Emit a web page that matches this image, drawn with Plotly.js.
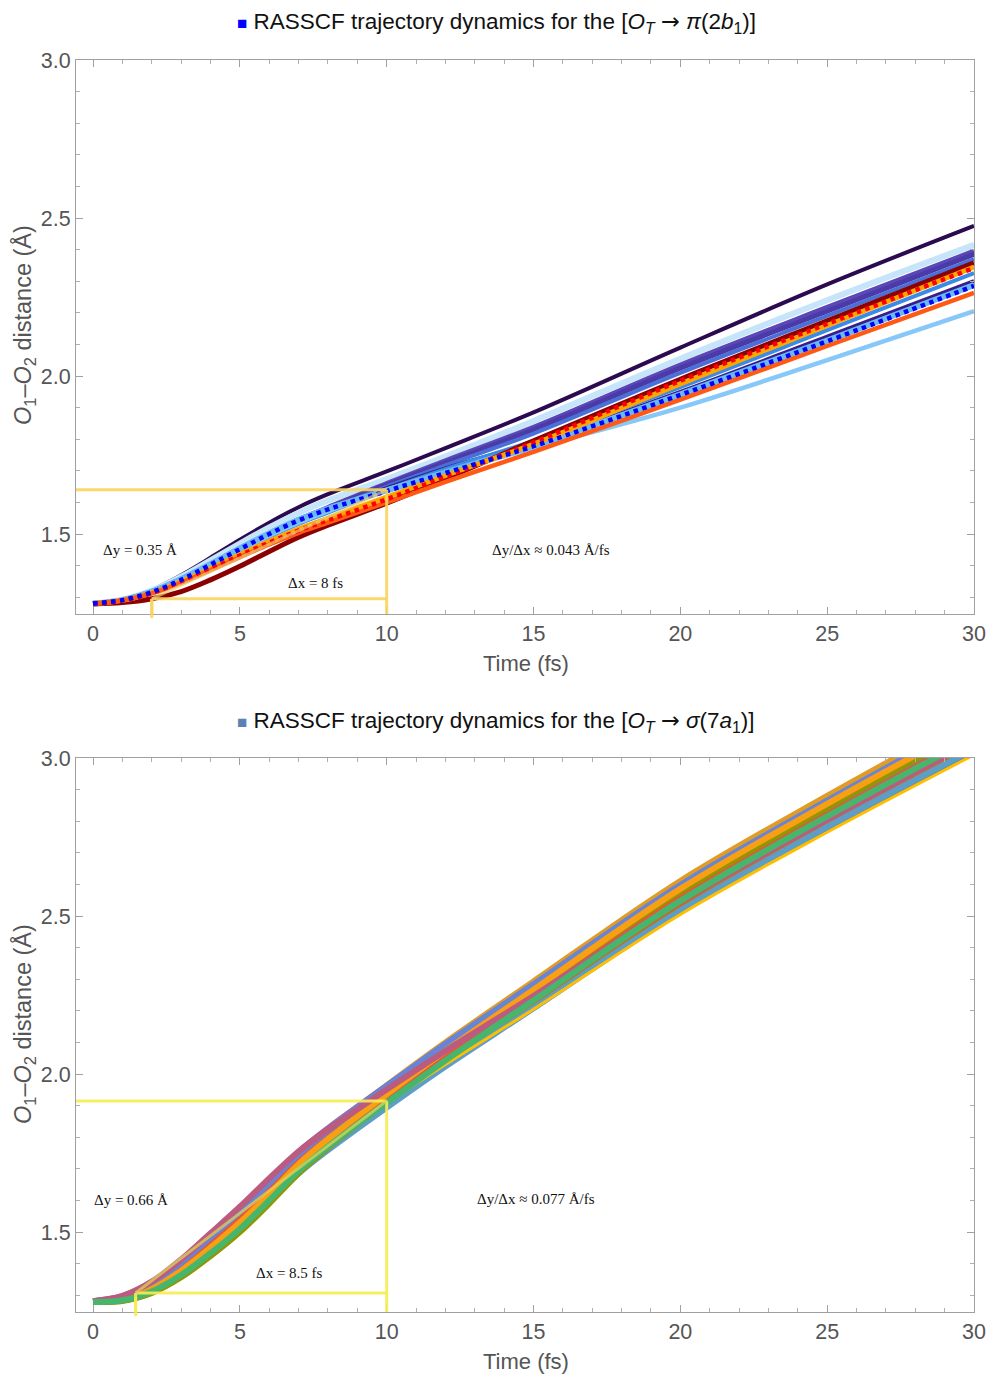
<!DOCTYPE html>
<html>
<head>
<meta charset="utf-8">
<script src="https://cdn.plot.ly/plotly-3.0.1.min.js"></script>
<style>html,body{margin:0;padding:0;background:#fff}#chart{width:990px;height:1376px}</style>
</head>
<body>
<div id="chart"></div>
<script>
// ---------- DATA ----------
const timeFs = [0, 1, 2, 3, 4, 5, 6, 7, 8, 10, 12, 15, 20, 25, 30];
const xTickVals = [0, 5, 10, 15, 20, 25, 30];
const yTickVals = [1.5, 2.0, 2.5, 3.0];

// Top panel: [O_T -> pi(2b1)] trajectories (O1-O2 distance, Angstrom)
const pi01 = [1.280, 1.292, 1.323, 1.370, 1.425, 1.482, 1.536, 1.585, 1.626, 1.698, 1.772, 1.885, 2.090, 2.290, 2.475];
const pi02 = [1.280, 1.292, 1.321, 1.365, 1.417, 1.470, 1.521, 1.567, 1.606, 1.674, 1.745, 1.858, 2.055, 2.240, 2.415];
const pi03 = [1.280, 1.291, 1.318, 1.358, 1.405, 1.455, 1.502, 1.546, 1.584, 1.660, 1.732, 1.838, 2.035, 2.217, 2.395];
const pi04 = [1.280, 1.291, 1.318, 1.357, 1.404, 1.453, 1.499, 1.543, 1.580, 1.655, 1.725, 1.830, 2.025, 2.205, 2.385];
const pi05 = [1.280, 1.291, 1.317, 1.356, 1.402, 1.450, 1.496, 1.539, 1.576, 1.650, 1.717, 1.818, 2.010, 2.190, 2.370];
const pi06 = [1.280, 1.291, 1.317, 1.355, 1.400, 1.448, 1.494, 1.536, 1.572, 1.645, 1.708, 1.790, 1.950, 2.125, 2.300];
const pi07 = [1.280, 1.291, 1.316, 1.354, 1.399, 1.446, 1.491, 1.532, 1.568, 1.640, 1.705, 1.795, 1.965, 2.145, 2.326];
const pi08 = [1.280, 1.291, 1.317, 1.355, 1.401, 1.449, 1.495, 1.536, 1.572, 1.640, 1.695, 1.772, 1.900, 2.050, 2.205];
const pi09 = [1.279, 1.283, 1.295, 1.318, 1.355, 1.398, 1.445, 1.490, 1.528, 1.598, 1.675, 1.795, 1.990, 2.175, 2.358];
const pi10 = [1.280, 1.290, 1.314, 1.349, 1.391, 1.435, 1.477, 1.516, 1.550, 1.617, 1.685, 1.785, 1.975, 2.160, 2.345];
const pi11 = [1.280, 1.290, 1.312, 1.346, 1.386, 1.427, 1.467, 1.504, 1.536, 1.600, 1.665, 1.760, 1.925, 2.095, 2.263];
const pi12 = [1.280, 1.291, 1.316, 1.355, 1.403, 1.452, 1.500, 1.543, 1.578, 1.636, 1.693, 1.778, 1.940, 2.110, 2.285];
const pi13 = [1.280, 1.290, 1.313, 1.348, 1.389, 1.432, 1.473, 1.511, 1.544, 1.610, 1.682, 1.790, 1.985, 2.165, 2.342];
const pi14 = [1.280, 1.291, 1.317, 1.357, 1.405, 1.454, 1.502, 1.545, 1.580, 1.638, 1.695, 1.780, 1.942, 2.112, 2.288];

// Bottom panel: [O_T -> sigma(7a1)] trajectories
const sg01 = [1.280, 1.288, 1.320, 1.378, 1.451, 1.530, 1.620, 1.706, 1.778, 1.908, 2.032, 2.210, 2.513, 2.775, 3.020];
const sg02 = [1.281, 1.294, 1.334, 1.399, 1.478, 1.560, 1.650, 1.744, 1.823, 1.964, 2.100, 2.293, 2.611, 2.880, 3.136];
const sg03 = [1.279, 1.286, 1.316, 1.371, 1.442, 1.520, 1.610, 1.701, 1.777, 1.914, 2.045, 2.232, 2.544, 2.810, 3.059];
const sg04 = [1.280, 1.290, 1.325, 1.385, 1.460, 1.540, 1.630, 1.721, 1.797, 1.933, 2.064, 2.251, 2.562, 2.828, 3.079];
const sg05 = [1.280, 1.292, 1.330, 1.392, 1.469, 1.550, 1.640, 1.731, 1.806, 1.942, 2.073, 2.259, 2.570, 2.835, 3.087];
const sg06 = [1.279, 1.285, 1.314, 1.368, 1.438, 1.515, 1.605, 1.695, 1.769, 1.903, 2.033, 2.217, 2.526, 2.790, 3.037];
const sg07 = [1.279, 1.283, 1.309, 1.361, 1.429, 1.505, 1.595, 1.685, 1.759, 1.894, 2.024, 2.208, 2.517, 2.782, 3.028];
const sg08 = [1.280, 1.289, 1.323, 1.382, 1.456, 1.535, 1.625, 1.710, 1.780, 1.908, 2.030, 2.205, 2.505, 2.765, 3.010];
const sg09 = [1.281, 1.297, 1.341, 1.410, 1.492, 1.575, 1.665, 1.754, 1.828, 1.962, 2.090, 2.273, 2.581, 2.845, 3.098];
const sg10 = [1.279, 1.282, 1.307, 1.357, 1.424, 1.500, 1.590, 1.686, 1.767, 1.912, 2.051, 2.248, 2.571, 2.842, 3.094];
const sg11 = [1.280, 1.290, 1.325, 1.385, 1.460, 1.540, 1.630, 1.720, 1.795, 1.930, 2.060, 2.245, 2.555, 2.820, 3.070];
const sg12 = [1.281, 1.295, 1.336, 1.403, 1.483, 1.565, 1.655, 1.747, 1.824, 1.962, 2.095, 2.284, 2.598, 2.865, 3.120];
const sg13 = [1.280, 1.288, 1.320, 1.378, 1.451, 1.530, 1.620, 1.715, 1.794, 1.936, 2.073, 2.267, 2.586, 2.855, 3.109];
const sg14 = [1.281, 1.298, 1.343, 1.413, 1.496, 1.580, 1.670, 1.755, 1.824, 1.951, 2.073, 2.247, 2.546, 2.805, 3.054];
const sg15 = [1.279, 1.284, 1.312, 1.364, 1.433, 1.510, 1.600, 1.693, 1.770, 1.909, 2.043, 2.233, 2.548, 2.815, 3.065];

// Guide lines (slope construction): [x0, x1, yLow, yHigh]
const piGuide = [2.0, 10.0, 1.295, 1.640];
const sgGuide = [1.45, 10.0, 1.307, 1.915];

// Text labels
const arrow = '<span style="font-family:DejaVu Sans">→</span>';
const piTitle = '<span style="color:#0000ff;font-size:17px">■</span> RASSCF trajectory dynamics for the [<i>O</i><sub><i>T</i></sub> ' + arrow + ' <i>π</i>(2<i>b</i><sub>1</sub>)]';
const sgTitle = '<span style="color:#5e81b5;font-size:17px">■</span> RASSCF trajectory dynamics for the [<i>O</i><sub><i>T</i></sub> ' + arrow + ' <i>σ</i>(7<i>a</i><sub>1</sub>)]';
const yTitle = '<i>O</i><sub>1</sub>–<i>O</i><sub>2</sub> distance (Å)';
const xTitle = 'Time (fs)';
const piLabels = ['Δy = 0.35 Å', 'Δx = 8 fs', 'Δy/Δx ≈ 0.043 Å/fs'];
const sgLabels = ['Δy = 0.66 Å', 'Δx = 8.5 fs', 'Δy/Δx ≈ 0.077 Å/fs'];

// ---------- STYLES ----------
const piSeries = [pi01, pi02, pi03, pi04, pi05, pi06, pi07, pi08, pi14, pi09, pi10, pi11, pi13, pi12];
const piStyle = [
  {c:'#2b0a50', w:4}, {c:'#c6e4fa', w:6}, {c:'#5a48b8', w:5}, {c:'#4b3aa8', w:5},
  {c:'#4a70d8', w:4}, {c:'#3a1c8a', w:4}, {c:'#3a8ae6', w:4}, {c:'#88c8f8', w:4.5},
  {c:'#6ab8f2', w:6}, {c:'#8b0000', w:5}, {c:'#ffa500', w:5}, {c:'#ff5a14', w:4.5},
  {c:'#ff0000', w:4.5, d:'dot'}, {c:'#0000ff', w:4.5, d:'dot'}
];
const sgSeries = [sg01, sg02, sg03, sg04, sg05, sg06, sg07, sg08, sg09, sg10, sg11, sg12, sg13, sg14, sg15];
const sgColors = ['#5e81b5','#e19c24','#8fb032','#eb6235','#8778b3','#c56e1a','#5d9ec7','#ffbf00',
                  '#a5609d','#929600','#e95536','#6685d9','#f89f13','#bc5b80','#47b66d'];

const traces = [];
piSeries.forEach((ys, i) => {
  const s = piStyle[i];
  traces.push({x: timeFs, y: ys, xaxis:'x', yaxis:'y', mode:'lines', hoverinfo:'skip',
    line:{color:s.c, width:s.w, dash:s.d || 'solid', shape:'spline', smoothing:1}, showlegend:false});
});
sgSeries.forEach((ys, i) => {
  traces.push({x: timeFs, y: ys, xaxis:'x2', yaxis:'y2', mode:'lines', hoverinfo:'skip',
    line:{color:sgColors[i], width:i === 7 ? 3 : 6, shape:'spline', smoothing:1}, showlegend:false});
});

const yRange = [1.247, 3.0];
const xRange = [-0.58, 30];
const axisCommon = {
  showline:true, linecolor:'#a0a0a0', linewidth:1, mirror:'ticks',
  ticks:'inside', ticklen:7, tickcolor:'#a0a0a0', tickwidth:1,
  showgrid:false, zeroline:false,
  tickfont:{family:'Liberation Sans, Arial, sans-serif', size:21.5, color:'#555'}
};
function xa(anchor, dom){ return Object.assign({}, axisCommon, {anchor, domain:dom, range:xRange,
  tickvals:xTickVals, minor:{dtick:1, ticks:'inside', ticklen:4, tickcolor:'#b0b0b0'}}); }
function ya(anchor, dom){ return Object.assign({}, axisCommon, {anchor, domain:dom, range:yRange,
  tickvals:yTickVals, tickformat:'.1f', minor:{dtick:0.1, ticks:'inside', ticklen:4, tickcolor:'#b0b0b0'}}); }

const xDom = [76/990, 974/990];
const yDomTop = [(1376-614)/1376, (1376-60)/1376];
const yDomBot = [(1376-1312)/1376, (1376-758)/1376];

function guideShapes(g, xr, yr, axisBottomPx, col, colDiag){
  const [x0, x1, ylo, yhi] = g;
  const base = {type:'line', layer:'above', xref:xr, yref:yr};
  return [
    Object.assign({}, base, {x0:xRange[0], x1:x1, y0:yhi, y1:yhi, line:{color:col, width:3}}),
    Object.assign({}, base, {x0:x1, x1:x1, y0:yhi, y1:yRange[0], line:{color:col, width:3}}),
    Object.assign({}, base, {x0:x0, x1:x1, y0:ylo, y1:ylo, line:{color:col, width:3}}),
    {type:'line', layer:'above', xref:xr, yref:'paper', x0:x0, x1:x0,
     y0:(1376-axisBottomPx-4)/1376, y1:(1376-axisBottomPx+15)/1376, line:{color:col, width:3}},
    Object.assign({}, base, {x0:x0, x1:x0, y0:ylo, y1:yRange[0], line:{color:col, width:3}}),
    Object.assign({}, base, {x0:x0, x1:x1, y0:ylo, y1:yhi, line:{color:colDiag, width:3}})
  ];
}

const serif = {family:'Liberation Serif, Times New Roman, serif', size:15, color:'#111'};
const sans = {family:'Liberation Sans, Arial, sans-serif', size:22.5, color:'#111'};
const gray = {family:'Liberation Sans, Arial, sans-serif', size:22, color:'#555'};
const grayY = {family:'Liberation Sans, Arial, sans-serif', size:23.5, color:'#555'};

function labelAnns(lbl, xr, yr, pos){
  return lbl.map((t, i) => ({text:t, xref:xr, yref:yr, x:pos[i][0], y:pos[i][1], showarrow:false, font:serif,
    xanchor:'center', yanchor:'middle'}));
}
function paperAnn(text, px, py, font, extra){
  return Object.assign({text, xref:'paper', yref:'paper', x:px/990, y:(1376-py)/1376, showarrow:false,
    font, xanchor:'center', yanchor:'middle'}, extra || {});
}

const annotations = [
  paperAnn(piTitle, 496, 22, sans),
  paperAnn(sgTitle, 496, 722, sans),
  paperAnn(xTitle, 526, 663, gray),
  paperAnn(xTitle, 526, 1361, gray),
  paperAnn(yTitle, 24, 325, grayY, {textangle:-90}),
  paperAnn(yTitle, 24, 1024, grayY, {textangle:-90})
].concat(labelAnns(piLabels, 'x', 'y', [[1.6, 1.449], [7.56, 1.345], [15.6, 1.449]]))
 .concat(labelAnns(sgLabels, 'x2', 'y2', [[1.29, 1.601], [6.7, 1.370], [15.1, 1.604]]));

const layout = {
  width:990, height:1376, margin:{l:0, r:0, t:0, b:0},
  paper_bgcolor:'#fff', plot_bgcolor:'#fff', showlegend:false,
  xaxis: xa('y', xDom), yaxis: ya('x', yDomTop),
  xaxis2: xa('y2', xDom), yaxis2: ya('x2', yDomBot),
  shapes: guideShapes(piGuide, 'x', 'y', 614, 'rgba(250,212,95,0.9)', 'rgba(230,205,110,0.7)')
    .concat(guideShapes(sgGuide, 'x2', 'y2', 1312, 'rgba(246,236,80,0.9)', 'rgba(220,210,90,0.75)')),
  annotations
};

Plotly.newPlot('chart', traces, layout, {displayModeBar:false, staticPlot:true});
</script>
</body>
</html>
